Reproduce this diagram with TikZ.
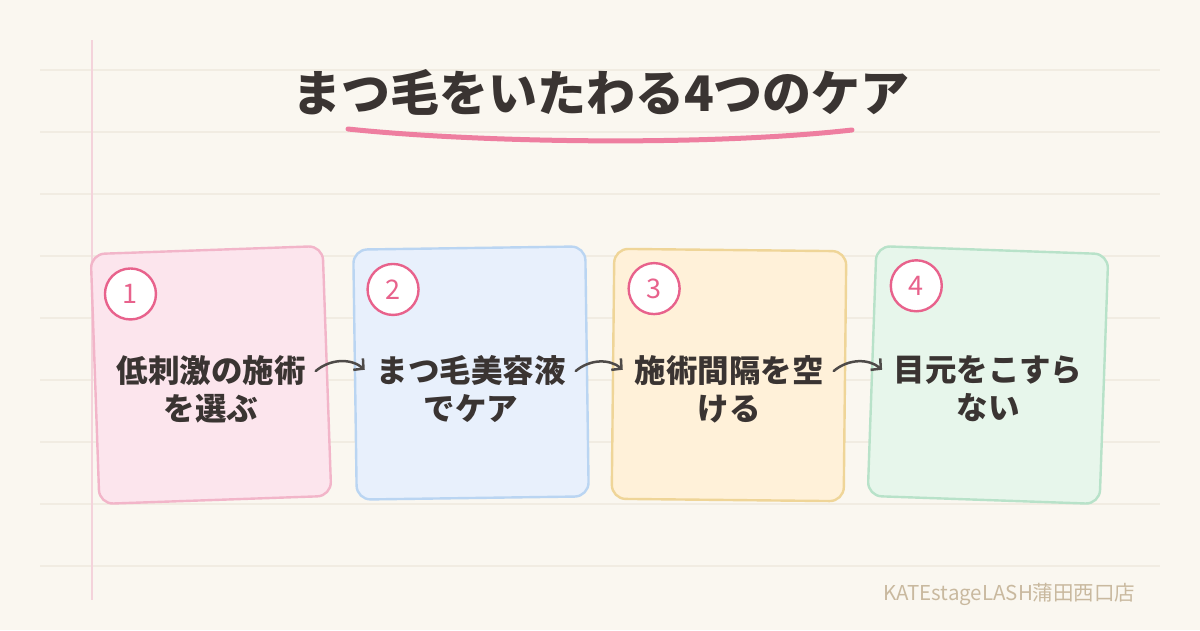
\documentclass[tikz,border=0pt]{standalone}
\usepackage{fontspec}
\setmainfont{Noto Sans CJK JP}
\usepackage{xcolor}
\usetikzlibrary{arrows.meta,positioning,calc}

\definecolor{paper}{HTML}{FAF7F0}
\definecolor{ruleline}{HTML}{F1ECE2}
\definecolor{marginline}{HTML}{F4D3DB}
\definecolor{ink}{HTML}{3A3432}
\definecolor{underpink}{HTML}{EE7EA0}
\definecolor{numpink}{HTML}{E8628C}
\definecolor{arrowgray}{HTML}{4E4A48}
\definecolor{shoptan}{HTML}{C9B99F}
\definecolor{pinkfill}{HTML}{FCE5ED}
\definecolor{pinkline}{HTML}{F2B5C9}
\definecolor{bluefill}{HTML}{E8F0FC}
\definecolor{blueline}{HTML}{BAD5F2}
\definecolor{yellowfill}{HTML}{FFF1D9}
\definecolor{yellowline}{HTML}{EFD598}
\definecolor{greenfill}{HTML}{E7F6EB}
\definecolor{greenline}{HTML}{B8E2C9}

\begin{document}
\begin{tikzpicture}[x=1pt, y=1pt,
    card/.style={draw, rounded corners=14pt, line width=2.4pt, minimum width=232pt, minimum height=250pt},
    num/.style={circle, draw=numpink, fill=white, line width=2.4pt, minimum size=51pt, inner sep=0pt, text=numpink, font=\fontsize{27}{27}\selectfont},
    cardtext/.style={align=center, inner sep=10pt, text=ink, font=\fontsize{31.5}{38}\selectfont\bfseries},
    arrow/.style={line width=2.5pt, draw=arrowgray, line cap=round, shorten >=2pt, -{Straight Barb[length=7pt, width=15pt, line width=2.5pt]}},
    ruled/.style={draw=ruleline, line width=1.3pt},
    label/.style={font=\fontsize{20.5}{20.5}\selectfont, text=shoptan}
]
    % Paper and ruled lines
    \fill[paper] (0,0) rectangle (1200,-630);
    \useasboundingbox (0,0) rectangle (1200,-630);
    \foreach \y in {70,132,...,566}
        \draw[ruled] (40,-\y) -- (1160,-\y);
    \draw[marginline, line width=1.3pt] (92,-40) -- (92,-600);

    % Title
    \node[text=ink, font=\fontsize{49}{49}\selectfont\bfseries] (title) at (601,-92) {まつ毛をいたわる4つのケア};
    \draw[underpink, line width=5pt, line cap=round] (348,-129) .. controls (470,-142) and (700,-147) .. (852,-130);

    % Cards
    \node[card, draw=pinkline, fill=pinkfill, rotate=2] (card1) at (211,-375) {};
    \node[card, draw=blueline, fill=bluefill, rotate=0.8] (card2) at (471,-373) {};
    \node[card, draw=yellowline, fill=yellowfill, rotate=-0.6] (card3) at (729,-375) {};
    \node[card, draw=greenline, fill=greenfill, rotate=-2] (card4) at (988,-375) {};

    % Numbers
    \node[num] (num1) at ([shift={(41,-41)}]card1.north west) {1};
    \node[num] (num2) at ([shift={(41,-41)}]card2.north west) {2};
    \node[num] (num3) at ([shift={(41,-41)}]card3.north west) {3};
    \node[num] (num4) at ([shift={(41,-41)}]card4.north west) {4};

    % Card texts
    \node[cardtext] (text1) at ($(card1.center)+(0,-14)$) {低刺激の施術\\を選ぶ};
    \node[cardtext] (text2) at ($(card2.center)+(0,-16)$) {まつ毛美容液\\でケア};
    \node[cardtext] (text3) at ($(card3.center)+(0,-14)$) {施術間隔を空\\ける};
    \node[cardtext] (text4) at ($(card4.center)+(0,-14)$) {目元をこすら\\ない};

    % Connections
    \draw[arrow] ([yshift=18pt]text1.east) to[bend left=40] ([yshift=18pt]text2.west);
    \draw[arrow] ([yshift=18pt]text2.east) to[bend left=40] ([yshift=18pt]text3.west);
    \draw[arrow] ([yshift=18pt]text3.east) to[bend left=40] ([yshift=18pt]text4.west);

    % Shop name
    \node[label, anchor=east] (shop) at (1139,-594) {KATEstageLASH蒲田西口店};
\end{tikzpicture}
\end{document}
